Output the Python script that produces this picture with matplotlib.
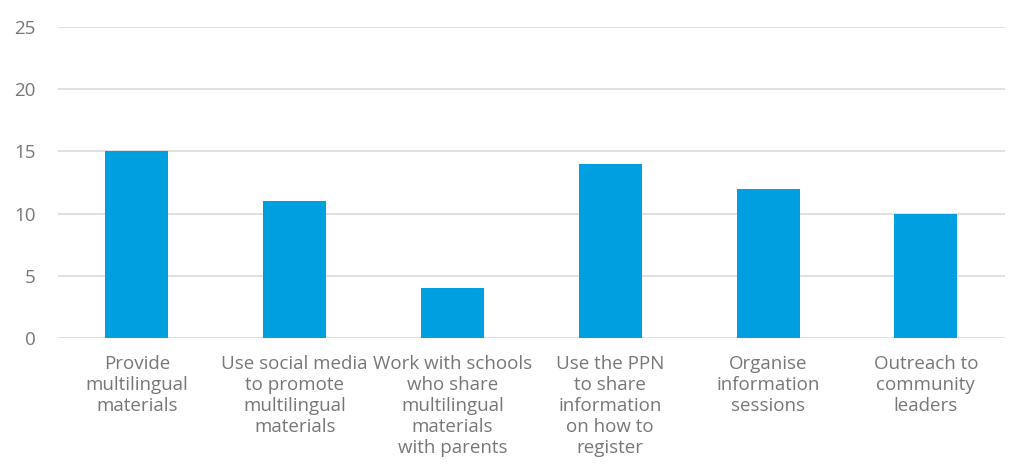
import matplotlib.pyplot as plt

categories = [
    'Provide\nmultilingual\nmaterials',
    'Use social media\nto promote\nmultilingual\nmaterials',
    'Work with schools\nwho share\nmultilingual\nmaterials\nwith parents',
    'Use the PPN\nto share\ninformation\non how to\nregister',
    'Organise\ninformation\nsessions',
    'Outreach to\ncommunity\nleaders',
]
values = [15, 11, 4, 14, 12, 10]
y_ticks = [0, 5, 10, 15, 20, 25]

plt.rcParams['font.family'] = ['Open Sans', 'DejaVu Sans']

fig = plt.figure(figsize=(10.18, 4.68), dpi=100)
ax = fig.add_axes([0.057, 0.278, 0.93, 0.664])

x = range(len(categories))
ax.bar(x, values, width=0.4, color='#009FDF', zorder=3)

ax.set_ylim(0, 25)
ax.set_xlim(-0.5, len(categories) - 0.5)
ax.set_yticks(y_ticks)
ax.set_xticks(list(x))
ax.set_xticklabels(categories, fontsize=13.5, color='#777777', linespacing=1.22)
ax.tick_params(axis='y', labelsize=13.5, labelcolor='#777777', length=0, pad=16)
ax.tick_params(axis='x', length=0, pad=12)

ax.grid(axis='y', color='#dddddd', linewidth=1.3, zorder=0)
for s in ax.spines.values():
    s.set_visible(False)

fig.savefig('out.png', dpi=100)
